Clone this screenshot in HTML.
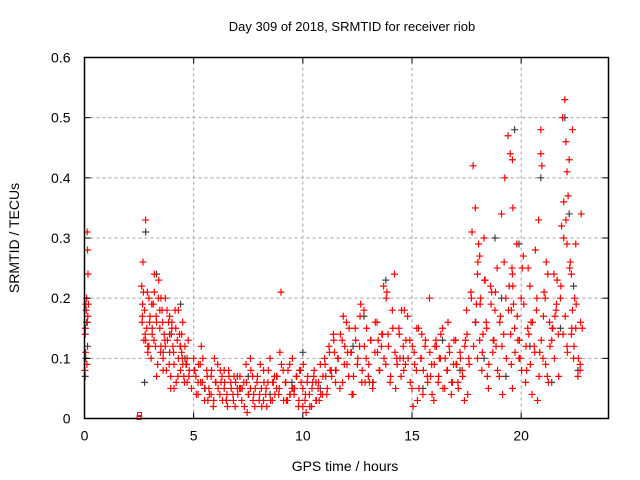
<!DOCTYPE html>
<html><head><meta charset="utf-8"><style>
body{margin:0;background:#fff}
svg{display:block;font-family:"Liberation Sans",sans-serif}
</style></head><body>
<svg id="c" width="640" height="480">
<text x="352" y="31" text-anchor="middle" font-size="13">Day 309 of 2018, SRMTID for receiver riob</text>
<text x="345" y="471" text-anchor="middle" font-size="14">GPS time / hours</text>
<text transform="translate(19,238) rotate(-90)" text-anchor="middle" font-size="14">SRMTID / TECUs</text>
<g id="grid"></g>
<g id="pts"></g>
<rect x="84.5" y="57.5" width="524" height="361" fill="none" stroke="#000" stroke-width="1.5"/>
<g id="ticks"></g>
</svg>
<script>
const xTicks=[0,5,10,15,20];
const yTicks=[0,0.1,0.2,0.3,0.4,0.5,0.6];
const yTickLabels=["0","0.1","0.2","0.3","0.4","0.5","0.6"];
const redT=[0.02,0.04,0.06,0.08,0.1,0.12,0.14,0.16,0.18,0.05,0.11,0.15,0.03,0.13,
2.62,2.64,2.66,2.68,2.72,2.75,2.8,2.85,2.9,2.95,3.0,3.05,3.1,3.15,3.2,3.25,3.3,3.35,3.4,3.45,3.5,3.55,3.6,3.65,3.7,3.75,3.8,3.85,3.9,3.95,4.0,4.05,4.1,4.15,4.2,4.25,4.3,4.35,4.4,4.45,4.5,4.55,4.6,4.65,4.7,4.75,4.8,2.7,2.9,3.1,3.3,3.5,3.7,3.9,4.1,4.3,4.5,4.7,2.8,3.2,3.6,4.0,4.4,
4.9,5.0,5.1,5.2,5.3,5.4,5.5,5.6,5.7,5.8,5.9,6.0,6.1,6.2,6.3,6.4,6.5,6.6,6.7,6.8,6.9,7.0,7.1,7.2,7.3,7.4,7.5,7.6,7.7,7.8,7.9,8.0,8.1,8.2,8.3,8.4,8.5,8.6,8.7,8.8,8.9,9.0,9.1,9.2,9.3,9.4,9.5,9.6,9.7,9.8,9.9,10.0,10.1,10.2,10.3,10.4,10.5,10.6,10.7,10.8,10.9,5.05,5.35,5.65,5.95,6.25,6.55,6.85,7.15,7.45,7.75,8.05,8.35,8.65,8.95,9.25,9.55,9.85,10.15,10.45,10.75,5.2,5.8,6.4,7.0,7.6,8.2,8.8,9.4,10.0,10.6,
11.0,11.1,11.2,11.3,11.4,11.5,11.6,11.7,11.8,11.9,12.0,12.1,12.2,12.3,12.4,12.5,12.6,12.7,12.8,12.9,13.0,13.1,13.2,13.3,13.4,13.5,13.6,13.7,13.8,13.9,14.0,14.1,14.2,14.3,14.4,14.5,14.6,14.7,14.8,14.9,15.0,15.1,15.2,15.3,15.4,15.5,15.6,15.7,15.8,15.9,16.0,16.1,16.2,16.3,16.4,16.5,16.6,16.7,16.8,16.9,17.0,17.1,17.2,17.3,17.4,11.05,11.45,11.85,12.25,12.65,13.05,13.45,13.85,14.25,14.65,15.05,15.45,15.85,16.25,16.65,17.05,17.45,11.25,12.05,12.85,13.65,14.45,15.25,16.05,16.85,
17.5,17.6,17.7,17.8,17.9,18.0,18.05,18.1,18.15,18.2,18.3,18.4,18.5,18.6,18.7,18.8,18.9,19.0,19.1,19.2,19.3,19.4,19.5,19.55,19.6,19.7,19.8,19.9,20.0,20.1,20.2,20.3,20.4,20.5,20.6,20.7,20.8,20.9,21.0,21.1,21.2,21.3,21.4,21.5,21.6,21.7,21.8,21.9,22.0,22.05,22.1,22.15,22.2,22.25,22.3,22.35,22.4,22.45,22.5,22.6,22.7,22.8,
17.55,17.75,17.95,18.0,18.1,18.25,18.45,18.65,18.85,19.05,19.25,19.45,19.6,19.65,19.85,20.05,20.25,20.45,20.65,20.85,21.05,21.25,21.45,21.65,21.85,21.95,22.1,22.3,22.5,22.7,18.35,18.75,19.15,19.55,19.95,20.35,20.75,21.15,21.55,21.95,22.35,22.75,19.6,19.62,19.58,20.9,20.95,22.05,22.1,22.15,22.2];
const redV=[0.08,0.15,0.19,0.18,0.2,0.31,0.28,0.24,0.19,0.11,0.09,0.17,0.14,0.16,
0.22,0.16,0.19,0.26,0.13,0.18,0.33,0.15,0.12,0.2,0.17,0.1,0.14,0.19,0.21,0.12,0.16,0.09,0.23,0.15,0.12,0.18,0.1,0.14,0.2,0.08,0.13,0.16,0.11,0.07,0.15,0.12,0.09,0.18,0.06,0.13,0.1,0.14,0.08,0.11,0.16,0.07,0.12,0.09,0.1,0.13,0.08,0.21,0.11,0.15,0.07,0.2,0.12,0.17,0.05,0.18,0.09,0.06,0.13,0.24,0.08,0.16,0.12,
0.05,0.1,0.07,0.04,0.09,0.06,0.03,0.08,0.05,0.07,0.02,0.06,0.09,0.04,0.07,0.05,0.03,0.08,0.06,0.04,0.02,0.07,0.05,0.03,0.06,0.09,0.04,0.05,0.07,0.02,0.06,0.03,0.05,0.08,0.04,0.06,0.1,0.03,0.07,0.05,0.04,0.21,0.08,0.06,0.03,0.09,0.05,0.04,0.07,0.02,0.08,0.05,0.03,0.06,0.04,0.02,0.07,0.03,0.05,0.09,0.04,0.08,0.12,0.03,0.1,0.06,0.02,0.07,0.05,0.01,0.04,0.09,0.02,0.06,0.11,0.03,0.05,0.08,0.01,0.06,0.03,0.06,0.04,0.08,0.05,0.1,0.03,0.07,0.04,0.02,
0.06,0.1,0.04,0.12,0.08,0.14,0.06,0.1,0.05,0.13,0.09,0.16,0.07,0.11,0.04,0.15,0.09,0.12,0.06,0.18,0.1,0.07,0.13,0.05,0.11,0.16,0.08,0.12,0.22,0.09,0.14,0.06,0.18,0.24,0.1,0.15,0.07,0.12,0.09,0.17,0.13,0.05,0.11,0.08,0.15,0.1,0.04,0.12,0.07,0.2,0.09,0.03,0.13,0.06,0.1,0.15,0.05,0.08,0.12,0.04,0.09,0.13,0.06,0.11,0.08,0.03,0.07,0.11,0.17,0.04,0.19,0.06,0.13,0.21,0.05,0.18,0.02,0.14,0.07,0.1,0.16,0.09,0.13,0.08,0.11,0.06,0.14,0.1,0.03,
0.12,0.06,0.18,0.1,0.21,0.42,0.35,0.24,0.29,0.13,0.2,0.08,0.3,0.16,0.05,0.22,0.11,0.18,0.25,0.07,0.34,0.14,0.2,0.47,0.44,0.09,0.24,0.15,0.29,0.1,0.2,0.27,0.06,0.15,0.22,0.04,0.12,0.18,0.33,0.44,0.1,0.2,0.07,0.16,0.13,0.24,0.18,0.14,0.2,0.5,0.53,0.46,0.41,0.37,0.43,0.26,0.14,0.18,0.1,0.2,0.29,0.07,
0.08,0.15,0.04,0.31,0.19,0.1,0.27,0.14,0.07,0.21,0.12,0.17,0.4,0.22,0.05,0.19,0.13,0.25,0.08,0.16,0.28,0.11,0.21,0.06,0.15,0.23,0.32,0.36,0.12,0.24,0.15,0.09,0.23,0.13,0.04,0.18,0.1,0.14,0.03,0.26,0.17,0.3,0.48,0.34,0.43,0.35,0.25,0.48,0.42,0.33,0.29];
const redT2=[2.65,2.78,2.88,2.98,3.08,3.18,3.28,3.38,3.48,3.58,3.68,3.78,3.88,3.98,4.08,4.18,4.28,4.38,4.48,4.58,4.68,4.78,2.95,3.45,3.95,4.45,
5.02,5.12,5.22,5.32,5.42,5.52,5.62,5.72,5.82,5.92,6.02,6.12,6.22,6.32,6.42,6.52,6.62,6.72,6.82,6.92,7.02,7.12,7.22,7.32,7.42,7.52,7.62,7.72,7.82,7.92,8.02,8.12,8.22,8.32,8.42,8.52,8.62,8.72,8.82,8.92,9.02,9.12,9.22,9.32,9.42,9.52,9.62,9.72,9.82,9.92,10.02,10.12,10.22,10.32,10.42,10.52,10.62,10.72,10.82,10.92,
11.02,11.12,11.22,11.32,11.42,11.52,11.62,11.72,11.82,11.92,12.02,12.12,12.22,12.32,12.42,12.52,12.62,12.72,12.82,12.92,13.02,13.12,13.22,13.32,13.42,13.52,13.62,13.72,13.82,13.92,14.02,14.12,14.22,14.32,14.42,14.52,14.62,14.72,14.82,14.92,15.02,15.12,15.22,15.32,15.42,15.52,15.62,15.72,15.82,15.92,16.02,16.12,16.22,16.32,16.42,16.52,16.62,16.72,16.82,16.92,17.02,17.12,17.22,17.32,17.42,
17.52,17.62,17.72,17.82,17.92,18.02,18.12,18.22,18.32,18.42,18.52,18.62,18.72,18.82,18.92,19.02,19.12,19.22,19.32,19.42,19.52,19.62,19.72,19.82,19.92,20.02,20.12,20.22,20.32,20.42,20.52,20.62,20.72,20.82,20.92,21.02,21.12,21.22,21.32,21.42,21.52,21.62,21.72,21.82,21.92,22.02,22.12,22.22,22.32,22.42,22.52,22.62,22.72];
const redV2=[0.17,0.14,0.21,0.16,0.19,0.13,0.17,0.2,0.11,0.16,0.13,0.18,0.09,0.14,0.11,0.15,0.07,0.12,0.1,0.06,0.09,0.07,0.12,0.18,0.05,0.14,
0.08,0.04,0.09,0.06,0.1,0.05,0.07,0.04,0.08,0.03,0.06,0.05,0.08,0.03,0.06,0.04,0.07,0.05,0.03,0.06,0.04,0.07,0.05,0.02,0.06,0.04,0.08,0.03,0.05,0.07,0.04,0.02,0.06,0.05,0.08,0.03,0.06,0.04,0.07,0.05,0.09,0.03,0.06,0.08,0.04,0.1,0.05,0.07,0.03,0.06,0.09,0.04,0.07,0.02,0.05,0.08,0.03,0.06,0.04,0.07,
0.09,0.05,0.11,0.07,0.13,0.08,0.1,0.14,0.06,0.12,0.09,0.15,0.11,0.07,0.13,0.1,0.17,0.08,0.12,0.15,0.09,0.13,0.06,0.16,0.11,0.08,0.14,0.1,0.2,0.12,0.07,0.15,0.11,0.09,0.14,0.18,0.08,0.13,0.1,0.06,0.12,0.09,0.15,0.05,0.1,0.08,0.13,0.06,0.11,0.04,0.09,0.12,0.07,0.14,0.05,0.1,0.08,0.11,0.06,0.13,0.09,0.05,0.1,0.07,0.12,
0.14,0.09,0.2,0.12,0.16,0.26,0.19,0.11,0.23,0.15,0.09,0.19,0.13,0.21,0.08,0.16,0.12,0.26,0.1,0.18,0.14,0.22,0.11,0.17,0.13,0.08,0.19,0.12,0.25,0.09,0.16,0.11,0.2,0.07,0.13,0.17,0.09,0.24,0.12,0.15,0.1,0.19,0.07,0.22,0.14,0.17,0.11,0.25,0.15,0.12,0.19,0.1,0.16];
const blackT=[0.03,0.06,0.1,0.14,2.75,2.8,3.3,3.9,4.4,4.6,5.5,6.5,7.5,8.5,9.5,10,10.8,11.5,12.3,13.2,13.8,14.6,15.5,16.4,17.2,17.9,18.3,18.8,19.3,19.7,19.9,20.4,20.9,21.4,21.8,22.0,22.2,22.4,22.6,3.6,12.8,19.1];
const blackV=[0.07,0.1,0.16,0.12,0.06,0.31,0.24,0.14,0.19,0.1,0.05,0.03,0.07,0.04,0.06,0.11,0.05,0.08,0.12,0.06,0.23,0.1,0.05,0.13,0.08,0.16,0.1,0.3,0.07,0.48,0.29,0.12,0.4,0.06,0.15,0.5,0.34,0.22,0.08,0.11,0.17,0.2];
const zeroT=[2.5,2.52];
const zeroV=[0,0.005];
const NS='http://www.w3.org/2000/svg';
const X0=84.5,X1=608.5,Y0=418.5,Y1=57.5;
function sx(t){return X0+(t/24)*(X1-X0);}
function sy(v){return Y0-(v/0.6)*(Y0-Y1);}
function mk(tag,attrs,parent){const e=document.createElementNS(NS,tag);for(const k in attrs)e.setAttribute(k,attrs[k]);parent.appendChild(e);return e;}
const grid=document.getElementById('grid'),ticks=document.getElementById('ticks'),pts=document.getElementById('pts');
xTicks.forEach(t=>{const x=sx(t);
 if(t>0){const g=mk('line',{x1:x,x2:x,y1:Y0,y2:Y1,stroke:'#a0a0a0','stroke-dasharray':'3,3'},grid);
 
 }
 const l=mk('line',{x1:x,x2:x,y1:Y0,y2:Y0-6,stroke:'#000'},ticks);
 
 
 const l2=mk('line',{x1:x,x2:x,y1:Y1,y2:Y1+6,stroke:'#000'},ticks);
 
 
 const tx=mk('text',{x:x,y:Y0+22,'text-anchor':'middle','font-size':'14'},ticks);tx.textContent=String(t);
 
 
});
yTicks.forEach((v,i)=>{const y=sy(v);
 if(v>0&&v<0.6){const g=mk('line',{x1:X0,x2:X1,y1:y,y2:y,stroke:'#a0a0a0','stroke-dasharray':'3,3'},grid);
 
 }
 const l=mk('line',{x1:X0,x2:X0+6,y1:y,y2:y,stroke:'#000'},ticks);
 
 
 const l2=mk('line',{x1:X1,x2:X1-6,y1:y,y2:y,stroke:'#000'},ticks);
 
 
 const tx=mk('text',{x:X0-14,y:y+5,'text-anchor':'end','font-size':'14'},ticks);tx.textContent=yTickLabels[i];
 
 
});
function plus(t,v,col,name){const x=sx(t),y=sy(v);
 const p=mk('path',{d:`M${x-3.5},${y}H${x+3.5}M${x},${y-3.5}V${y+3.5}`,stroke:col,'stroke-width':'1.2',fill:'none'},pts);
 
 }
blackT.forEach((t,i)=>plus(t,blackV[i],'#404040','black-point'));
redT.forEach((t,i)=>plus(t,redV[i],'#ff0000','red-point'));
redT2.forEach((t,i)=>plus(t,redV2[i],'#ff0000','red-point'));
zeroT.forEach((t,i)=>{const r=mk('rect',{x:sx(t)-2,y:sy(zeroV[i])-3,width:4,height:4,fill:'none',stroke:'#ff0000'},pts);
 
 });
</script>
</body></html>
